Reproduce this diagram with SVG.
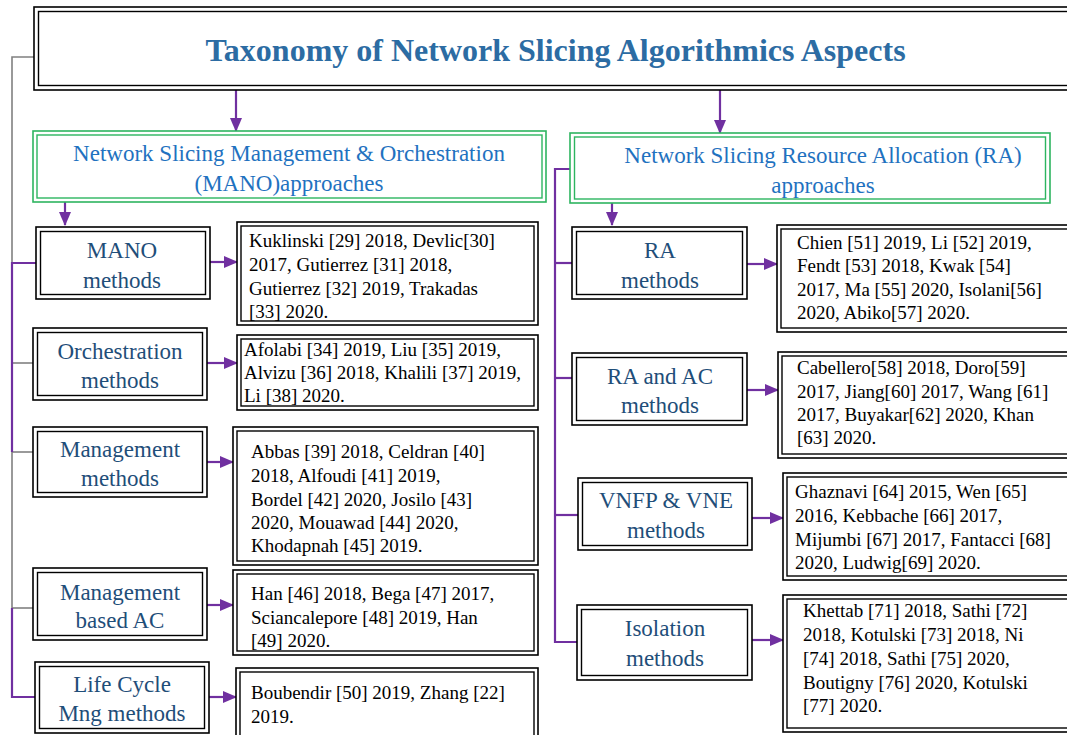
<svg xmlns="http://www.w3.org/2000/svg" width="1067" height="735" viewBox="0 0 1067 735">
<defs>
<marker id="ah" markerUnits="userSpaceOnUse" markerWidth="14" markerHeight="12" refX="13" refY="6" orient="auto">
<path d="M0,0 L14,6 L0,12 Z" fill="#7030A0"/>
</marker>
<style>
.bo{fill:#fff;stroke:#000;stroke-width:1.6}
.bi{fill:none;stroke:#000;stroke-width:1.4}
.go{fill:#fff;stroke:#2DB560;stroke-width:1.6}
.gi{fill:none;stroke:#2DB560;stroke-width:1.4}
.title{font-weight:bold;font-size:32px;fill:#2C6CA3}
.hd{font-size:23px;fill:#1F72C0}
.mt{font-size:23px;fill:#1F4E79}
.rt{font-size:19px;fill:#000}
.pl{stroke:#7030A0;stroke-width:2.2;fill:none}
.gl{stroke:#808080;stroke-width:1.6;fill:none}
.ar{stroke:#7030A0;stroke-width:2.2;fill:none;marker-end:url(#ah)}
</style>
</defs>
<rect width="1067" height="735" fill="#fff"/>

<g id="connectors">
<polyline class="gl" points="34,57 12,57 12,608"/>
<line class="gl" x1="12" y1="363" x2="33" y2="363"/>
<line class="gl" x1="12" y1="452" x2="33" y2="452"/>
<line class="gl" x1="12" y1="608" x2="33" y2="608"/>
<polyline class="pl" points="36,263 12,263 12,452"/>
<polyline class="pl" points="12,608 12,697 35,697"/>
<polyline class="pl" points="570,169 555,169 555,642 577,642"/>
<line class="pl" x1="555" y1="263" x2="572" y2="263"/>
<line class="pl" x1="555" y1="378" x2="572" y2="378"/>
<line class="pl" x1="555" y1="515" x2="578" y2="515"/>
<line class="ar" x1="236" y1="90" x2="236" y2="131"/>
<line class="ar" x1="720" y1="90" x2="720" y2="133"/>
<line class="ar" x1="65" y1="202" x2="65" y2="225"/>
<line class="ar" x1="612" y1="203" x2="612" y2="225"/>
<line class="ar" x1="210" y1="262" x2="237" y2="262"/>
<line class="ar" x1="207" y1="363" x2="237" y2="363"/>
<line class="ar" x1="207" y1="462" x2="233" y2="462"/>
<line class="ar" x1="207" y1="605" x2="233" y2="605"/>
<line class="ar" x1="209" y1="697" x2="236" y2="697"/>
<line class="ar" x1="747" y1="264" x2="777" y2="264"/>
<line class="ar" x1="747" y1="390" x2="778" y2="390"/>
<line class="ar" x1="752" y1="518" x2="783" y2="518"/>
<line class="ar" x1="752" y1="640" x2="783" y2="640"/>
</g>

<g font-family="'Liberation Serif', 'Times New Roman', 'DejaVu Serif', serif">
<g id="title">
<rect class="bo" x="34" y="7" width="1050" height="83"/>
<rect class="bi" x="38.5" y="11.5" width="1040" height="74"/>
<text class="title" x="555.5" y="61" text-anchor="middle">Taxonomy of Network Slicing Algorithmics Aspects</text>
</g>

<g id="mano-approaches">
<rect class="go" x="33" y="131" width="513" height="71"/>
<rect class="gi" x="37" y="135" width="505" height="63"/>
<text class="hd" text-anchor="middle"><tspan x="289" y="161">Network Slicing Management &amp; Orchestration</tspan><tspan x="289" y="191">(MANO)approaches</tspan></text>
</g>

<g id="ra-approaches">
<rect class="go" x="570" y="133" width="480" height="70"/>
<rect class="gi" x="574.5" y="137" width="471" height="62"/>
<text class="hd" text-anchor="middle"><tspan x="823" y="163">Network Slicing Resource Allocation (RA)</tspan><tspan x="823" y="193">approaches</tspan></text>
</g>

<g id="mano-methods">
<rect class="bo" x="36" y="227" width="174" height="72"/>
<rect class="bi" x="40.5" y="231.5" width="165" height="63"/>
<text class="mt" text-anchor="middle"><tspan x="122" y="258">MANO</tspan><tspan x="122" y="288">methods</tspan></text>
</g>
<g id="orchestration-methods">
<rect class="bo" x="33" y="328" width="174" height="72"/>
<rect class="bi" x="37.5" y="332.5" width="165" height="63"/>
<text class="mt" text-anchor="middle"><tspan x="120" y="359">Orchestration</tspan><tspan x="120" y="388">methods</tspan></text>
</g>
<g id="management-methods">
<rect class="bo" x="33" y="427" width="174" height="70"/>
<rect class="bi" x="37.5" y="431.5" width="165" height="61"/>
<text class="mt" text-anchor="middle"><tspan x="120" y="457">Management</tspan><tspan x="120" y="486">methods</tspan></text>
</g>
<g id="management-ac">
<rect class="bo" x="33" y="568" width="174" height="72"/>
<rect class="bi" x="37.5" y="572.5" width="165" height="63"/>
<text class="mt" text-anchor="middle"><tspan x="120" y="600">Management</tspan><tspan x="120" y="628">based AC</tspan></text>
</g>
<g id="lifecycle-methods">
<rect class="bo" x="35" y="662" width="174" height="71"/>
<rect class="bi" x="39.5" y="666.5" width="165" height="62"/>
<text class="mt" text-anchor="middle"><tspan x="122" y="692">Life Cycle</tspan><tspan x="122" y="721">Mng methods</tspan></text>
</g>

<g id="ra-methods">
<rect class="bo" x="572" y="227" width="175" height="72"/>
<rect class="bi" x="576.5" y="231.5" width="166" height="63"/>
<text class="mt" text-anchor="middle"><tspan x="660" y="258">RA</tspan><tspan x="660" y="288">methods</tspan></text>
</g>
<g id="ra-ac-methods">
<rect class="bo" x="572" y="353" width="175" height="72"/>
<rect class="bi" x="576.5" y="357.5" width="166" height="63"/>
<text class="mt" text-anchor="middle"><tspan x="660" y="384">RA and AC</tspan><tspan x="660" y="413">methods</tspan></text>
</g>
<g id="vnfp-methods">
<rect class="bo" x="578" y="478" width="174" height="72"/>
<rect class="bi" x="582.5" y="482.5" width="165" height="63"/>
<text class="mt" text-anchor="middle"><tspan x="666" y="508">VNFP &amp; VNE</tspan><tspan x="666" y="538">methods</tspan></text>
</g>
<g id="isolation-methods">
<rect class="bo" x="577" y="605" width="175" height="75"/>
<rect class="bi" x="581.5" y="609.5" width="166" height="66"/>
<text class="mt" text-anchor="middle"><tspan x="665" y="636">Isolation</tspan><tspan x="665" y="666">methods</tspan></text>
</g>

<g id="ref-mano">
<rect class="bo" x="237" y="222" width="301" height="103"/>
<rect class="bi" x="241" y="226" width="293" height="95"/>
<text class="rt"><tspan x="249" y="247">Kuklinski [29] 2018, Devlic[30]</tspan><tspan x="249" y="271">2017,  Gutierrez [31] 2018,</tspan><tspan x="249" y="295">Gutierrez [32]  2019, Trakadas</tspan><tspan x="249" y="318">[33] 2020.</tspan></text>
</g>
<g id="ref-orchestration">
<rect class="bo" x="237" y="335" width="301" height="75"/>
<rect class="bi" x="241" y="339" width="293" height="67"/>
<text class="rt"><tspan x="244" y="356">Afolabi [34] 2019, Liu [35] 2019,</tspan><tspan x="244" y="379">Alvizu [36] 2018, Khalili [37] 2019,</tspan><tspan x="244" y="402">Li [38] 2020.</tspan></text>
</g>
<g id="ref-management">
<rect class="bo" x="233" y="427" width="305" height="138"/>
<rect class="bi" x="237" y="431" width="297" height="130"/>
<text class="rt"><tspan x="251" y="458">Abbas [39] 2018,  Celdran [40]</tspan><tspan x="251" y="482">2018, Alfoudi [41] 2019,</tspan><tspan x="251" y="506">Bordel [42] 2020, Josilo [43]</tspan><tspan x="251" y="529">2020, Mouawad [44] 2020,</tspan><tspan x="251" y="552">Khodapnah [45] 2019.</tspan></text>
</g>
<g id="ref-management-ac">
<rect class="bo" x="233" y="570" width="305" height="85"/>
<rect class="bi" x="237" y="574" width="297" height="77"/>
<text class="rt"><tspan x="251" y="600">Han [46] 2018, Bega [47] 2017,</tspan><tspan x="251" y="624">Sciancalepore [48] 2019, Han</tspan><tspan x="251" y="647">[49] 2020.</tspan></text>
</g>
<g id="ref-lifecycle">
<rect class="bo" x="236" y="668" width="302" height="70"/>
<rect class="bi" x="240" y="672" width="294" height="70"/>
<text class="rt"><tspan x="251" y="699">Boubendir [50] 2019, Zhang [22]</tspan><tspan x="251" y="723">2019.</tspan></text>
</g>

<g id="ref-ra">
<rect class="bo" x="777" y="225" width="300" height="107"/>
<rect class="bi" x="781" y="229" width="292" height="99"/>
<text class="rt"><tspan x="797" y="249">Chien [51] 2019, Li [52] 2019,</tspan><tspan x="797" y="272">Fendt [53] 2018, Kwak [54]</tspan><tspan x="797" y="296">2017, Ma [55] 2020, Isolani[56]</tspan><tspan x="797" y="319">2020, Abiko[57] 2020.</tspan></text>
</g>
<g id="ref-ra-ac">
<rect class="bo" x="778" y="352" width="300" height="106"/>
<rect class="bi" x="782" y="356" width="292" height="98"/>
<text class="rt"><tspan x="797" y="374">Cabellero[58] 2018, Doro[59]</tspan><tspan x="797" y="398">2017, Jiang[60] 2017, Wang [61]</tspan><tspan x="797" y="421">2017, Buyakar[62] 2020, Khan</tspan><tspan x="797" y="444">[63] 2020.</tspan></text>
</g>
<g id="ref-vnfp">
<rect class="bo" x="783" y="473" width="295" height="107"/>
<rect class="bi" x="787" y="477" width="287" height="99"/>
<text class="rt"><tspan x="795" y="498">Ghaznavi [64] 2015, Wen [65]</tspan><tspan x="795" y="522">2016, Kebbache [66] 2017,</tspan><tspan x="795" y="546">Mijumbi [67] 2017, Fantacci [68]</tspan><tspan x="795" y="569">2020, Ludwig[69] 2020.</tspan></text>
</g>
<g id="ref-isolation">
<rect class="bo" x="783" y="595" width="295" height="137"/>
<rect class="bi" x="787" y="599" width="287" height="129"/>
<text class="rt"><tspan x="803" y="617">Khettab [71] 2018, Sathi [72]</tspan><tspan x="803" y="641">2018, Kotulski [73] 2018, Ni</tspan><tspan x="803" y="665">[74] 2018, Sathi [75] 2020,</tspan><tspan x="803" y="689">Boutigny [76] 2020, Kotulski</tspan><tspan x="803" y="712">[77] 2020.</tspan></text>
</g>
</g>
</svg>
